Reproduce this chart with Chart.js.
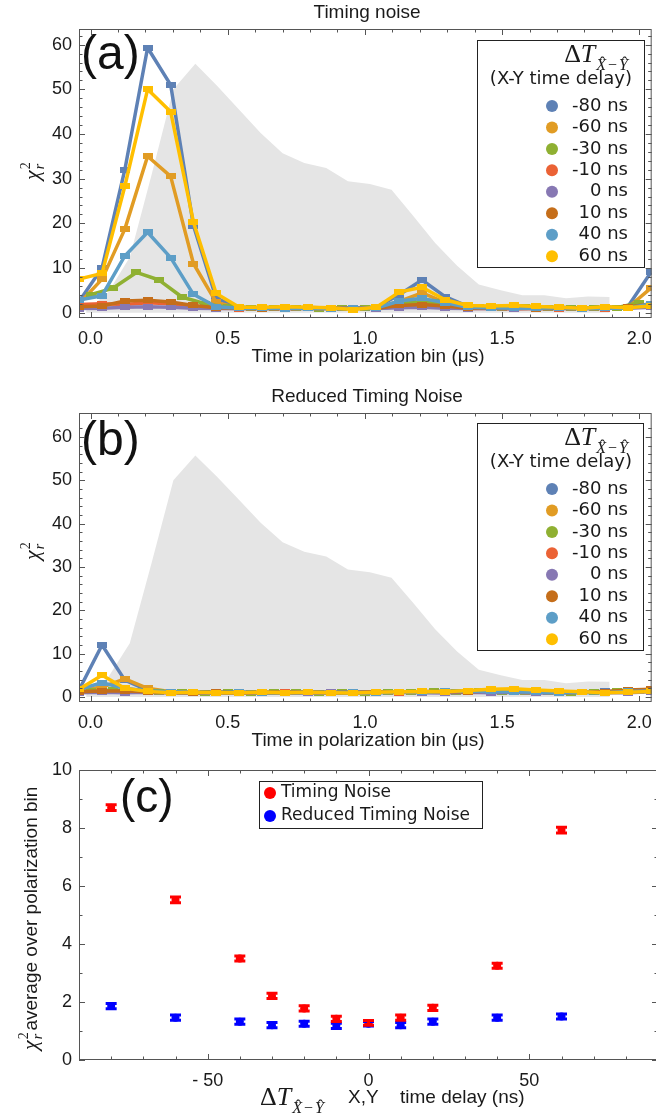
<!DOCTYPE html>
<html>
<head>
<meta charset="utf-8">
<script src="https://cdn.jsdelivr.net/npm/chart.js@4.4.0/dist/chart.umd.min.js"></script>
<style>
  html, body { margin: 0; padding: 0; background: #fff; overflow: hidden; width: 656px; height: 1114px; }
  canvas { position: absolute; left: 0; }
  #chartA { top: 0; }
  #chartB { top: 372px; }
  #chartC { top: 752px; }
</style>
</head>
<body>
<canvas id="chartA" width="662" height="372"></canvas>
<canvas id="chartB" width="662" height="380"></canvas>
<canvas id="chartC" width="662" height="362"></canvas>
<script>
// bin centres (us) for the chi^2 curves
const binTimes = [-0.042, 0.042, 0.125, 0.208, 0.292, 0.375, 0.458, 0.542, 0.625, 0.708, 0.792, 0.875, 0.958,
                  1.042, 1.125, 1.208, 1.292, 1.375, 1.458, 1.542, 1.625, 1.708, 1.792, 1.875, 1.958, 2.042];
// the -30 ns curve sits half a bin later
const greenTimes = [0.000, 0.083, 0.167, 0.250, 0.333, 0.417, 0.500, 0.583, 0.667, 0.750, 0.833, 0.917, 1.000,
                    1.083, 1.167, 1.250, 1.333, 1.417, 1.500, 1.583, 1.667, 1.750, 1.833, 1.917, 2.000];

const delayLabels = ['-80 ns', '-60 ns', '-30 ns', '-10 ns', '0 ns', '10 ns', '40 ns', '60 ns'];
const seriesColors = ['#5E81B5', '#E19C24', '#8FB032', '#EB6235', '#8778B3', '#C56E1A', '#5D9EC7', '#FFBF00'];

// (a) timing noise
const noiseM80 = [2.5, 10.0, 32.0, 59.3, 51.0, 19.5, 3.2, 1.2, 1.1, 1.0, 1.1, 1.0, 1.0, 1.2, 4.0, 7.3, 3.6, 1.4, 1.3, 1.2, 1.1, 1.2, 1.0, 1.2, 1.3, 9.0];
const noiseM60 = [2.0, 7.5, 18.7, 35.0, 30.5, 11.0, 2.3, 1.0, 1.1, 1.0, 1.2, 1.0, 1.0, 1.1, 2.5, 4.4, 2.3, 1.3, 1.2, 1.2, 1.0, 1.1, 1.0, 1.2, 1.1, 5.5];
const noiseM30 = [4.0, 5.5, 9.0, 7.3, 3.5, 2.0, 1.2, 1.1, 1.0, 1.1, 0.9, 1.0, 1.1, 1.5, 2.4, 2.3, 1.4, 1.2, 1.1, 1.2, 1.0, 1.1, 1.0, 1.1, 2.2];
const noiseM10 = [1.8, 2.0, 1.8, 2.2, 2.0, 1.5, 1.0, 0.9, 1.0, 0.8, 1.0, 0.9, 1.0, 1.0, 1.3, 1.5, 1.2, 0.9, 1.0, 0.8, 1.0, 0.9, 1.0, 0.9, 1.1, 1.5];
const noise0   = [0.9, 1.0, 1.2, 1.3, 1.2, 1.0, 0.9, 1.0, 0.9, 1.0, 1.0, 0.9, 1.0, 0.9, 1.1, 1.2, 1.0, 0.9, 1.0, 0.9, 0.9, 1.0, 0.9, 1.0, 1.0, 1.2];
const noiseP10 = [1.3, 1.5, 2.6, 2.8, 2.4, 1.6, 1.1, 1.0, 0.9, 1.0, 1.0, 1.1, 1.0, 1.0, 1.6, 1.8, 1.5, 1.0, 1.1, 1.0, 0.9, 1.0, 1.1, 1.0, 1.2, 2.0];
const noiseP40 = [2.8, 3.8, 12.7, 18.0, 12.3, 4.1, 1.3, 1.0, 1.0, 0.9, 1.0, 0.9, 1.0, 1.0, 2.6, 3.2, 2.2, 1.2, 1.1, 1.0, 1.0, 1.1, 0.9, 1.0, 1.0, 2.0];
const noiseP60 = [7.5, 8.8, 28.3, 50.0, 45.0, 20.3, 4.3, 1.2, 1.2, 1.3, 1.2, 1.1, 0.7, 1.2, 4.6, 5.7, 2.9, 1.6, 1.5, 1.6, 1.4, 1.2, 1.0, 1.3, 1.1, 1.5];

// (b) reduced timing noise
const reducedM80 = [1.6, 12.0, 3.9, 1.6, 1.2, 1.0, 1.1, 1.0, 1.0, 1.1, 1.0, 1.1, 1.0, 1.2, 1.1, 1.2, 1.3, 1.2, 1.4, 1.3, 1.2, 1.1, 1.2, 1.3, 1.4, 1.5];
const reducedM60 = [1.5, 2.3, 4.2, 2.0, 1.2, 1.0, 1.0, 1.1, 0.9, 1.0, 1.1, 1.0, 1.0, 1.1, 1.2, 1.1, 1.3, 1.4, 1.2, 1.3, 1.1, 1.2, 1.1, 1.2, 1.3, 1.6];
const reducedM30 = [1.3, 1.6, 1.5, 1.2, 1.1, 1.0, 1.1, 1.0, 1.1, 1.2, 1.0, 1.1, 1.0, 1.2, 1.1, 1.3, 1.2, 1.3, 1.2, 1.1, 1.2, 1.0, 1.2, 1.3, 1.4];
const reducedM10 = [1.2, 1.3, 1.2, 1.1, 1.0, 1.1, 1.0, 0.9, 1.0, 1.1, 1.0, 1.0, 1.1, 1.2, 1.0, 1.3, 1.1, 1.2, 1.3, 1.1, 1.0, 1.2, 1.1, 1.2, 1.3, 1.5];
const reduced0   = [1.0, 1.1, 1.0, 1.1, 1.0, 0.9, 1.0, 1.1, 1.0, 1.0, 0.9, 1.1, 1.0, 1.0, 1.1, 1.0, 0.9, 1.1, 1.0, 1.1, 0.9, 1.0, 1.1, 1.0, 1.0, 1.2];
const reducedP10 = [1.2, 1.4, 1.4, 1.2, 1.1, 1.0, 1.1, 1.0, 1.1, 1.0, 1.2, 1.0, 1.1, 1.2, 1.1, 1.2, 1.3, 1.2, 1.4, 1.3, 1.2, 1.0, 1.1, 1.2, 1.6, 1.8];
const reducedP40 = [1.8, 3.3, 2.0, 1.4, 1.2, 1.1, 1.0, 1.1, 1.0, 1.0, 1.1, 1.0, 1.1, 1.0, 1.2, 1.1, 1.3, 1.4, 1.3, 1.2, 1.1, 1.0, 1.1, 1.0, 1.3, 1.4];
const reducedP60 = [1.8, 5.0, 2.0, 1.3, 1.0, 1.1, 1.0, 1.0, 1.1, 1.0, 1.1, 1.0, 0.9, 1.1, 1.2, 1.3, 1.2, 1.5, 1.8, 1.9, 1.6, 1.4, 1.2, 1.0, 1.1, 1.3];

// grey pulse profile behind (a) and (b)
const pulseTimes  = [-0.016, 0.064, 0.143, 0.223, 0.302, 0.382, 0.461, 0.541, 0.620, 0.700, 0.779, 0.859, 0.938,
                     1.018, 1.097, 1.177, 1.256, 1.336, 1.415, 1.495, 1.574, 1.654, 1.733, 1.813, 1.892, 1.892];
const pulseValues = [0.5, 4.5, 12.4, 31.0, 50.0, 55.7, 50.8, 45.5, 40.2, 35.7, 33.5, 32.4, 29.4,
                     28.8, 27.5, 21.6, 15.6, 10.5, 6.3, 5.0, 3.9, 3.9, 3.2, 3.6, 3.5, 0];

// (c) average chi^2 vs delay
const delays        = [-80, -60, -40, -30, -20, -10, 0, 10, 20, 40, 60];
const timingAvg     = [8.70, 5.52, 3.50, 2.21, 1.78, 1.42, 1.28, 1.46, 1.80, 3.25, 7.93];
const timingErr     = [0.10, 0.10, 0.09, 0.09, 0.09, 0.09, 0.08, 0.09, 0.09, 0.09, 0.10];
const reducedAvg    = [1.86, 1.46, 1.32, 1.20, 1.25, 1.18, 1.25, 1.20, 1.32, 1.46, 1.50];
const reducedErr    = [0.09, 0.09, 0.09, 0.09, 0.09, 0.09, 0.08, 0.09, 0.09, 0.09, 0.09];

const timeTicks = [0, 0.5, 1.0, 1.5, 2.0];
const chiTicks = [0, 10, 20, 30, 40, 50, 60];
const delayTicks = [-50, 0, 50];
const avgTicks = [0, 2, 4, 6, 8, 10];

const SANS = '"Liberation Sans", Arial, sans-serif';
const SERIF = '"Liberation Serif", "Times New Roman", serif';
const LEGEND_FONT = '"DejaVu Sans", sans-serif';
const seriesTimes = [binTimes, binTimes, greenTimes, binTimes, binTimes, binTimes, binTimes, binTimes];

// inward frame ticks on all four sides, Mathematica style
const frameTicks = {
  id: 'frameTicks',
  afterDatasetsDraw(chart, args, o) {
    const {ctx, chartArea: a, scales: {x, y}} = chart;
    ctx.save();
    ctx.strokeStyle = '#555';
    ctx.lineWidth = 1;
    ctx.strokeRect(a.left + 0.5, a.top + 0.5, a.right - a.left - 1, a.bottom - a.top - 1);
    ctx.beginPath();
    const isMajor = (v, m) => Math.abs(v / m - Math.round(v / m)) < 1e-6;
    let n = Math.round((o.xTo - o.xFrom) / o.xStep);
    for (let i = 0; i <= n; i++) {
      const v = o.xFrom + i * o.xStep;
      const px = Math.round(x.getPixelForValue(v)) + 0.5;
      const len = isMajor(v, o.xMajor) ? 6 : 3.5;
      ctx.moveTo(px, a.bottom); ctx.lineTo(px, a.bottom - len);
      ctx.moveTo(px, a.top); ctx.lineTo(px, a.top + len);
    }
    n = Math.round((o.yTo - o.yFrom) / o.yStep);
    for (let i = 0; i <= n; i++) {
      const v = o.yFrom + i * o.yStep;
      const py = Math.round(y.getPixelForValue(v)) + 0.5;
      const len = isMajor(v, o.yMajor) ? 6 : 3.5;
      ctx.moveTo(a.left, py); ctx.lineTo(a.left + len, py);
      ctx.moveTo(a.right, py); ctx.lineTo(a.right - len, py);
    }
    ctx.stroke();
    ctx.restore();
  }
};

function markerFor(color) {
  const c = document.createElement('canvas');
  c.width = 10; c.height = 6;
  const g = c.getContext('2d');
  g.fillStyle = color;
  g.fillRect(0, 0, 10, 6);
  return c;
}

function drawChi(ctx, x, y, size) {
  ctx.textAlign = 'left';
  ctx.textBaseline = 'alphabetic';
  ctx.font = `italic ${size}px ${SERIF}`;
  ctx.fillText('χ', x, y);
  const w = ctx.measureText('χ').width;
  const s = Math.round(size * 0.62);
  ctx.font = `${s}px ${SERIF}`;
  ctx.fillText('2', x + w + 1, y - size * 0.42);
  ctx.font = `italic ${s}px ${SERIF}`;
  ctx.fillText('r', x + w + 1, y + size * 0.22);
  return w + 1 + s * 0.55;
}

// hat centred over an italic capital of width w starting at cx
function drawHat(ctx, cx, w, sy, s) {
  ctx.font = `${s}px ${SERIF}`;
  const hw = ctx.measureText('ˆ').width;
  ctx.fillText('ˆ', cx + w * 0.62 - hw / 2, sy - s * 0.14);
}

function drawDeltaT(ctx, x, y, size, alignRight) {
  const s = Math.round(size * 0.6);
  ctx.font = `${size}px ${SERIF}`;
  const wD = ctx.measureText('Δ').width;
  ctx.font = `italic ${size}px ${SERIF}`;
  const wT = ctx.measureText('T').width;
  ctx.font = `italic ${s}px ${SERIF}`;
  const wX = ctx.measureText('X').width;
  const wY = ctx.measureText('Y').width;
  ctx.font = `${s}px ${SERIF}`;
  const wM = ctx.measureText('−').width;
  const gap = 2;
  const total = wD + wT + 1 + wX + gap + wM + gap + wY;
  const x0 = alignRight ? x - total : x;
  const sy = y + size * 0.3;
  ctx.textAlign = 'left';
  ctx.textBaseline = 'alphabetic';
  ctx.font = `${size}px ${SERIF}`;
  ctx.fillText('Δ', x0, y);
  ctx.font = `italic ${size}px ${SERIF}`;
  ctx.fillText('T', x0 + wD, y);
  let cx = x0 + wD + wT + 1;
  ctx.font = `italic ${s}px ${SERIF}`;
  ctx.fillText('X', cx, sy);
  drawHat(ctx, cx, wX, sy, s);
  cx += wX + gap;
  ctx.font = `${s}px ${SERIF}`;
  ctx.fillText('−', cx, sy);
  cx += wM + gap;
  ctx.font = `italic ${s}px ${SERIF}`;
  ctx.fillText('Y', cx, sy);
  drawHat(ctx, cx, wY, sy, s);
  return total;
}

function drawCentered(ctx, text, x, y, font) {
  ctx.font = font;
  ctx.fillStyle = '#1a1a1a';
  ctx.textAlign = 'center';
  ctx.textBaseline = 'middle';
  ctx.fillText(text, x, y);
}

function drawDelayLegend(ctx, l, t, r, b) {
  ctx.save();
  ctx.fillStyle = '#fff';
  ctx.fillRect(l, t, r - l, b - t);
  ctx.strokeStyle = '#222';
  ctx.lineWidth = 1;
  ctx.strokeRect(l + 0.5, t + 0.5, r - l, b - t);
  ctx.fillStyle = '#1a1a1a';
  drawDeltaT(ctx, 628, t + 22, 26, true);
  ctx.font = `18px ${LEGEND_FONT}`;
  ctx.textAlign = 'right';
  ctx.textBaseline = 'middle';
  ctx.fillText('(X-Y time delay)', 632, t + 39);
  delayLabels.forEach((lab, i) => {
    const cy = t + 66 + i * 21.45;
    ctx.fillStyle = seriesColors[i];
    ctx.beginPath();
    ctx.arc(552, cy, 6, 0, Math.PI * 2);
    ctx.fill();
    ctx.fillStyle = '#1a1a1a';
    ctx.fillText(lab, 628, cy);
  });
  ctx.restore();
}

function drawLetter(ctx, text, x, y, size) {
  ctx.save();
  ctx.font = `${size}px ${SANS}`;
  ctx.fillStyle = '#111';
  ctx.textAlign = 'left';
  ctx.textBaseline = 'alphabetic';
  ctx.fillText(text, x, y);
  ctx.restore();
}

function timeChart(id, lists, yMin, yMax, L, extras) {
  const datasets = lists.map((vals, i) => ({
    label: delayLabels[i],
    data: vals.map((v, k) => ({x: seriesTimes[i][k], y: v})),
    borderColor: seriesColors[i],
    backgroundColor: seriesColors[i],
    borderWidth: 3.5,
    borderJoinStyle: 'round',
    pointStyle: markerFor(seriesColors[i]),
    pointRadius: 3,
    fill: false,
    tension: 0,
    order: 8 - i
  }));
  datasets.push({
    label: 'pulse',
    data: pulseValues.map((v, k) => ({x: pulseTimes[k], y: v})),
    borderWidth: 0,
    borderColor: 'rgba(0,0,0,0)',
    backgroundColor: '#E5E5E5',
    pointRadius: 0,
    fill: 'origin',
    tension: 0,
    order: 20
  });
  const tickFont = {family: SANS, size: 18};
  return new Chart(document.getElementById(id), {
    type: 'line',
    data: {datasets},
    options: {
      responsive: false,
      animation: false,
      layout: {padding: {top: L.top, right: L.right, left: 0, bottom: 0}},
      plugins: {
        legend: {display: false},
        tooltip: {enabled: false},
        frameTicks: {xFrom: 0, xTo: 2.0, xStep: 0.1, xMajor: 0.5, yFrom: 0, yTo: 62, yStep: 2, yMajor: 10}
      },
      scales: {
        x: {
          type: 'linear', min: -0.042, max: 2.045,
          grid: {display: false, drawTicks: false}, border: {display: false},
          afterBuildTicks: s => { s.ticks = timeTicks.map(v => ({value: v})); },
          afterFit: s => { s.height = L.xAxisH; },
          ticks: {padding: 10, color: '#1a1a1a', font: tickFont, maxRotation: 0, autoSkip: false,
                  callback: v => Number(v).toFixed(1)}
        },
        y: {
          type: 'linear', min: yMin, max: yMax,
          grid: {display: false, drawTicks: false}, border: {display: false},
          afterBuildTicks: s => { s.ticks = chiTicks.map(v => ({value: v})); },
          afterFit: s => { s.width = 79; },
          ticks: {padding: 7, color: '#1a1a1a', font: tickFont, autoSkip: false}
        }
      }
    },
    plugins: [frameTicks, extras]
  });
}

timeChart('chartA', [noiseM80, noiseM60, noiseM30, noiseM10, noise0, noiseP10, noiseP40, noiseP60],
  -1.2, 63.5, {top: 29, right: 3, xAxisH: 54}, {
    id: 'panelA',
    beforeDatasetsDraw(chart) { drawLetter(chart.ctx, '(a)', 81, 69, 48); },
    afterDraw(chart) {
      const ctx = chart.ctx;
      drawCentered(ctx, 'Timing noise', 367, 13, `19px ${SANS}`);
      drawCentered(ctx, 'Time in polarization bin (μs)', 368, 357, `19px ${SANS}`);
      ctx.save();
      ctx.fillStyle = '#1a1a1a';
      ctx.translate(39, 180);
      ctx.rotate(-Math.PI / 2);
      drawChi(ctx, 0, 0, 22);
      ctx.restore();
      drawDelayLegend(ctx, 477, 40, 644, 267);
    }
  });

timeChart('chartB', [reducedM80, reducedM60, reducedM30, reducedM10, reduced0, reducedP10, reducedP40, reducedP60],
  -1.15, 65.5, {top: 41, right: 3, xAxisH: 50}, {
    id: 'panelB',
    beforeDatasetsDraw(chart) { drawLetter(chart.ctx, '(b)', 81, 83, 48); },
    afterDraw(chart) {
      const ctx = chart.ctx;
      drawCentered(ctx, 'Reduced Timing Noise', 367, 25, `19px ${SANS}`);
      drawCentered(ctx, 'Time in polarization bin (μs)', 368, 369, `19px ${SANS}`);
      ctx.save();
      ctx.fillStyle = '#1a1a1a';
      ctx.translate(39, 188);
      ctx.rotate(-Math.PI / 2);
      drawChi(ctx, 0, 0, 22);
      ctx.restore();
      drawDelayLegend(ctx, 477, 51, 643, 278);
    }
  });

// error bars for panel (c)
const errorBars = {
  id: 'errorBars',
  afterDatasetsDraw(chart) {
    const {ctx, scales: {y}} = chart;
    const errs = [timingErr, reducedErr];
    ctx.save();
    for (let d = chart.data.datasets.length - 1; d >= 0; d--) {
      const meta = chart.getDatasetMeta(d);
      ctx.strokeStyle = chart.data.datasets[d].borderColor;
      ctx.lineWidth = 3;
      meta.data.forEach((pt, k) => {
        const v = chart.data.datasets[d].data[k].y;
        const top = y.getPixelForValue(v + errs[d][k]);
        const bot = y.getPixelForValue(v - errs[d][k]);
        ctx.beginPath();
        ctx.moveTo(pt.x, top); ctx.lineTo(pt.x, bot);
        ctx.moveTo(pt.x - 5.5, top); ctx.lineTo(pt.x + 5.5, top);
        ctx.moveTo(pt.x - 5.5, bot); ctx.lineTo(pt.x + 5.5, bot);
        ctx.stroke();
      });
    }
    ctx.restore();
  }
};

const tickFontC = {family: SANS, size: 18};
new Chart(document.getElementById('chartC'), {
  type: 'scatter',
  data: {
    datasets: [
      {label: 'Timing Noise', data: delays.map((d, k) => ({x: d, y: timingAvg[k]})),
       backgroundColor: '#FF0000', borderColor: '#FF0000', pointRadius: 4, pointBorderWidth: 0},
      {label: 'Reduced Timing Noise', data: delays.map((d, k) => ({x: d, y: reducedAvg[k]})),
       backgroundColor: '#0000FF', borderColor: '#0000FF', pointRadius: 4, pointBorderWidth: 0}
    ]
  },
  options: {
    responsive: false,
    animation: false,
    layout: {padding: {top: 18, right: 2, left: 0, bottom: 0}},
    plugins: {
      legend: {display: false},
      tooltip: {enabled: false},
      frameTicks: {xFrom: -90, xTo: 90, xStep: 10, xMajor: 50, yFrom: 0, yTo: 10, yStep: 1, yMajor: 2}
    },
    scales: {
      x: {
        type: 'linear', min: -90, max: 90,
        grid: {display: false, drawTicks: false}, border: {display: false},
        afterBuildTicks: s => { s.ticks = delayTicks.map(v => ({value: v})); },
        afterFit: s => { s.height = 54; },
        ticks: {padding: 10, color: '#1a1a1a', font: tickFontC, maxRotation: 0, autoSkip: false,
                callback: v => v < 0 ? '- ' + Math.abs(v) : String(v)}
      },
      y: {
        type: 'linear', min: 0, max: 10,
        grid: {display: false, drawTicks: false}, border: {display: false},
        afterBuildTicks: s => { s.ticks = avgTicks.map(v => ({value: v})); },
        afterFit: s => { s.width = 79; },
        ticks: {padding: 7, color: '#1a1a1a', font: tickFontC, autoSkip: false}
      }
    }
  },
  plugins: [frameTicks, errorBars, {
    id: 'panelC',
    beforeDatasetsDraw(chart) { drawLetter(chart.ctx, '(c)', 120, 60, 46); },
    afterDraw(chart) {
      const ctx = chart.ctx;
      ctx.save();
      ctx.fillStyle = '#1a1a1a';
      // y title
      ctx.save();
      ctx.translate(37, 298);
      ctx.rotate(-Math.PI / 2);
      const w = drawChi(ctx, 0, 0, 22);
      ctx.font = `19px ${SANS}`;
      ctx.fillText('average over polarization bin', w + 1, 0);
      ctx.restore();
      // x title
      drawDeltaT(ctx, 260, 353, 26, false);
      ctx.font = `19px ${SANS}`;
      ctx.textAlign = 'left';
      ctx.textBaseline = 'alphabetic';
      ctx.fillText('X,Y', 348, 351);
      ctx.fillText('time delay (ns)', 400, 351);
      // legend
      ctx.fillStyle = '#fff';
      ctx.fillRect(259, 29, 223, 47);
      ctx.strokeStyle = '#222';
      ctx.lineWidth = 1;
      ctx.strokeRect(259.5, 29.5, 223, 47);
      const items = [['Timing Noise', '#FF0000', 41], ['Reduced Timing Noise', '#0000FF', 64]];
      items.forEach(([lab, col, cy]) => {
        ctx.fillStyle = col;
        ctx.beginPath();
        ctx.arc(270, cy, 6, 0, Math.PI * 2);
        ctx.fill();
        ctx.fillStyle = '#1a1a1a';
        ctx.font = `17px ${LEGEND_FONT}`;
        ctx.textBaseline = 'middle';
        ctx.fillText(lab, 281, cy);
      });
      ctx.restore();
    }
  }]
});
</script>
</body>
</html>
